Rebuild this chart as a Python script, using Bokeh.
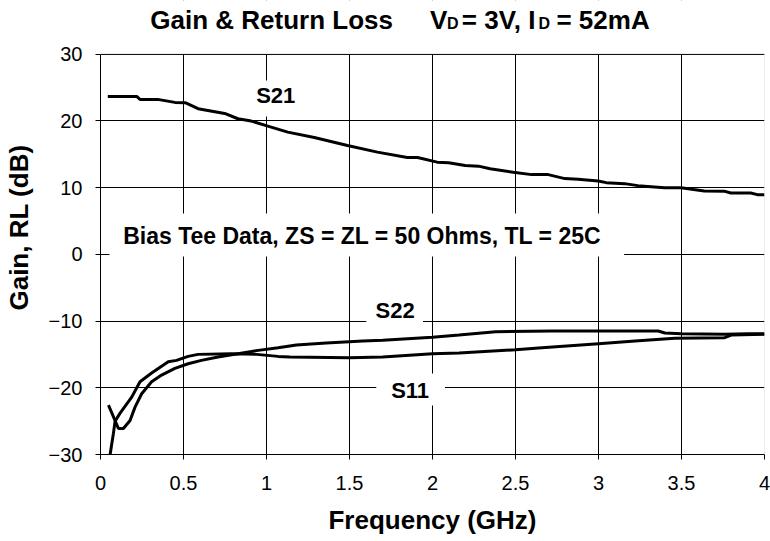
from bokeh.plotting import figure
from bokeh.models import Range1d, FixedTicker, Label, BoxAnnotation
from bokeh.embed import file_html
from bokeh.resources import INLINE

# ---------------- data ----------------
x_ticks = [0, 0.5, 1, 1.5, 2, 2.5, 3, 3.5, 4]
x_tick_labels = ["0", "0.5", "1", "1.5", "2", "2.5", "3", "3.5", "4"]
y_ticks = [-30, -20, -10, 0, 10, 20, 30]

freq_s21 = [0.044, 0.218, 0.238, 0.344, 0.448, 0.51, 0.588, 0.748, 0.828, 0.908,
            1.008, 1.128, 1.288, 1.488, 1.668, 1.848, 1.91, 2.028, 2.097, 2.197,
            2.277, 2.347, 2.486, 2.597, 2.697, 2.797, 2.877, 2.998, 3.047, 3.157,
            3.237, 3.397, 3.497, 3.637, 3.757, 3.797, 3.917, 3.957, 4.0]
gain_s21 = [23.65, 23.65, 23.2, 23.2, 22.75, 22.7, 21.8, 21.1, 20.3, 19.95,
            19.2, 18.3, 17.5, 16.3, 15.3, 14.5, 14.5, 13.8, 13.72, 13.3,
            13.2, 12.8, 12.3, 11.93, 11.93, 11.33, 11.23, 10.98, 10.73, 10.58,
            10.28, 9.98, 9.95, 9.48, 9.45, 9.18, 9.18, 8.93, 8.93]

freq_s11 = [0.058, 0.078, 0.088, 0.118, 0.188, 0.238, 0.308, 0.408, 0.458, 0.528,
            0.588, 0.788, 0.94, 1.07, 1.14, 1.5, 1.7, 2.0, 2.16, 2.5,
            2.66, 3.0, 3.22, 3.46, 3.76, 3.8, 4.0]
rl_s11 = [-30.0, -26.8, -25.0, -23.8, -21.4, -19.1, -17.8, -16.1, -15.9, -15.3,
          -15.0, -14.9, -15.0, -15.3, -15.4, -15.5, -15.4, -14.9, -14.8, -14.3,
          -14.0, -13.4, -13.0, -12.6, -12.5, -12.1, -12.0]

freq_s22 = [0.048, 0.108, 0.138, 0.178, 0.208, 0.248, 0.308, 0.368, 0.448, 0.528,
            0.608, 0.708, 0.828, 0.95, 1.07, 1.18, 1.36, 1.58, 1.7, 2.0,
            2.16, 2.38, 2.72, 3.02, 3.36, 3.4, 3.5, 3.76, 3.9, 4.0]
rl_s22 = [-22.6, -26.1, -26.1, -24.9, -22.9, -20.9, -19.1, -18.1, -17.1, -16.4,
          -15.9, -15.4, -14.9, -14.4, -14.0, -13.6, -13.3, -13.0, -12.9, -12.45,
          -12.1, -11.6, -11.5, -11.5, -11.5, -11.8, -11.9, -12.0, -11.9, -11.9]

FONT = "Liberation Sans"

# ---------------- layout (pixels) ----------------
W, H = 770, 541
BORDER_LEFT, BORDER_RIGHT, BORDER_BOTTOM = 97, 6, 87
FRAME_H = H - BORDER_BOTTOM            # frame reaches the canvas top (title lives inside it)
PLOT_TOP_PX = 53.5                     # where y = 30 sits, from the canvas top
Y_MIN, Y_MAX = -30, 30
Y_TOP = Y_MIN + (Y_MAX - Y_MIN) * FRAME_H / (FRAME_H - PLOT_TOP_PX)


def at(px, py):
    """Reference-picture pixel position -> data coordinates (for annotations)."""
    return ((px - 97.0) / (764.0 - 97.0) * 4.0,
            30.0 - (py - 53.5) / (454.0 - 53.5) * 60.0)


p = figure(width=W, height=H, x_range=Range1d(0, 4), y_range=Range1d(Y_MIN, Y_TOP),
           output_backend="svg", toolbar_location=None,
           min_border_left=BORDER_LEFT, min_border_right=BORDER_RIGHT,
           min_border_top=0, min_border_bottom=BORDER_BOTTOM,
           background_fill_color="white", border_fill_color="white")

p.outline_line_color = None

for ax in (p.xaxis[0], p.yaxis[0]):
    ax.axis_line_color = "black"
    ax.axis_line_width = 1
    ax.major_tick_line_color = "black"
    ax.major_tick_out = 5
    ax.major_tick_in = 0
    ax.minor_tick_out = 0
    ax.minor_tick_in = 0
    ax.major_label_text_font = FONT
    ax.major_label_text_font_size = "20px"
    ax.major_label_text_color = "black"
    ax.axis_label_text_font = FONT
    ax.axis_label_text_font_size = "26px"
    ax.axis_label_text_font_style = "bold"
    ax.axis_label_text_color = "black"

p.xaxis.ticker = FixedTicker(ticks=x_ticks)
p.xaxis.major_label_overrides = {float(t): lab for t, lab in zip(x_ticks, x_tick_labels)}
p.xaxis.major_label_standoff = 16
p.xaxis.axis_label = "Frequency (GHz)"
p.xaxis.axis_label_standoff = 12

p.yaxis.ticker = FixedTicker(ticks=y_ticks)
p.yaxis.bounds = (Y_MIN, Y_MAX)
p.yaxis.major_label_standoff = 13
p.yaxis.axis_label = "Gain, RL (dB)"
p.yaxis.axis_label_standoff = 12

for g in (p.xgrid[0], p.ygrid[0]):
    g.grid_line_color = "black"
    g.grid_line_width = 1

# white cover above the plot area (hides the grid where the title sits)
p.add_layout(BoxAnnotation(bottom=Y_MAX, fill_color="white", fill_alpha=1.0,
                           line_color=None, level="underlay"))
# grey plot-area border (left and bottom are redrawn black by the axes)
p.add_layout(BoxAnnotation(left=0, right=4, bottom=Y_MIN, top=Y_MAX,
                           fill_color=None, line_color="#808080", line_width=1,
                           level="glyph"))

# white text boxes that hide the grid under the labels
boxes = [
    (106, 623, 213, 256),   # Bias Tee text
    (248, 298, 80, 116),    # S21
    (364, 421, 296, 326),   # S22
    (374, 443, 373, 405),   # S11
]
for (l, r, t, b) in boxes:
    x0, y0 = at(l, b)
    x1, y1 = at(r, t)
    p.add_layout(BoxAnnotation(left=x0, right=x1, bottom=y0, top=y1,
                               fill_color="white", fill_alpha=1.0, line_color=None,
                               level="glyph"))

p.line(freq_s21, gain_s21, line_color="black", line_width=3)
p.line(freq_s11, rl_s11, line_color="black", line_width=3)
p.line(freq_s22, rl_s22, line_color="black", line_width=3)

TEXT_DY = -8   # Bokeh draws the alphabetic baseline a little lower than asked


def add_text(txt, px, py, size, align="left", style="bold"):
    x, y = at(px, py + TEXT_DY)
    p.add_layout(Label(x=x, y=y, text=txt, text_font=FONT, text_font_size=size,
                       text_font_style=style, text_align=align,
                       text_baseline="alphabetic", text_color="black"))


# title with subscripts
add_text("Gain & Return Loss", 147, 27, "26px")
add_text("V", 428, 27, "26px")
add_text("D", 445, 31, "16px")
add_text("= 3V, I", 460, 27, "26px")
add_text("D", 537, 31, "16px")
add_text("= 52mA", 555, 27, "26px")

# in-plot annotations
add_text("Bias Tee Data, ZS = ZL = 50 Ohms, TL = 25C", 360, 243, "23px", align="center")
add_text("S21", 273, 103, "22px", align="center")
add_text("S22", 393, 318, "22px", align="center")
add_text("S11", 408, 398, "22px", align="center")

open("out.html", "w").write(file_html(p, INLINE))
